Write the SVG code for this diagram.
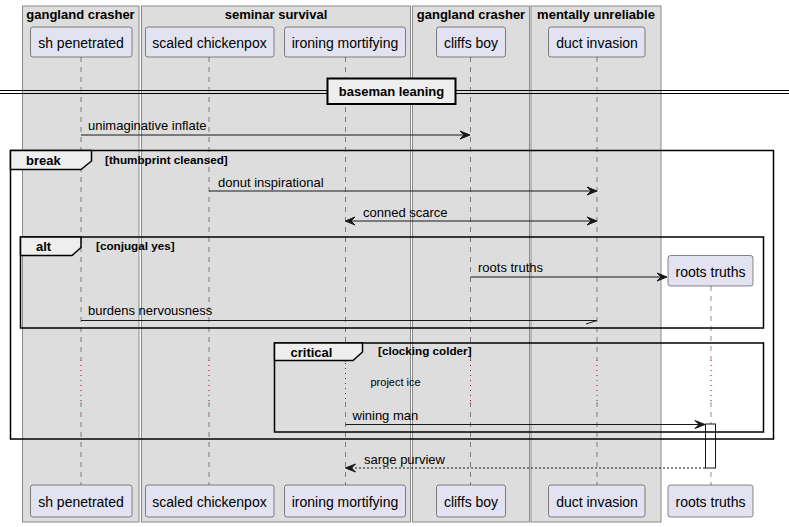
<svg xmlns="http://www.w3.org/2000/svg" width="789" height="527" viewBox="0 0 789 527">
<defs>
<style>
.grp{fill:#DDDDDD;stroke:#8A8A8A;stroke-width:1}
.gt{font-family:"Liberation Sans",Arial,sans-serif;font-size:13px;font-weight:bold;fill:#000;text-anchor:middle}
.pbox{fill:#E2E2F0;stroke:#181818;stroke-width:0.5}
.pt{font-family:"Liberation Sans",Arial,sans-serif;font-size:14px;fill:#000;text-anchor:middle}
.life{stroke:#181818;stroke-width:0.5;stroke-dasharray:5,5;fill:none}
.delay{stroke:#A80036;stroke-width:1;stroke-dasharray:1,4;fill:none}
.msg{stroke:#181818;stroke-width:1;fill:none}
.dash{stroke:#181818;stroke-width:1;stroke-dasharray:2,2;fill:none}
.mt{font-family:"Liberation Sans",Arial,sans-serif;font-size:13px;fill:#000}
.head{fill:#181818;stroke:#181818;stroke-width:1}
.frame{fill:none;stroke:#000;stroke-width:1.5}
.tab{fill:#EEEEEE;stroke:#000;stroke-width:1.5}
.ft{font-family:"Liberation Sans",Arial,sans-serif;font-size:13px;font-weight:bold;fill:#000}
.fg{font-family:"Liberation Sans",Arial,sans-serif;font-size:11.7px;font-weight:bold;fill:#000}
.note{font-family:"Liberation Sans",Arial,sans-serif;font-size:11px;fill:#000}
</style>
</defs>
<rect width="789" height="527" fill="#FFFFFF"/>
<g id="boxes">
<rect class="grp" x="22.5" y="6" width="116.5" height="516"/>
<text class="gt" x="80.5" y="19">gangland crasher</text>
<rect class="grp" x="141.5" y="6" width="269" height="516"/>
<text class="gt" x="276" y="19">seminar survival</text>
<rect class="grp" x="412.5" y="6" width="117" height="516"/>
<text class="gt" x="471" y="19">gangland crasher</text>
<rect class="grp" x="531" y="6" width="130" height="516"/>
<text class="gt" x="596" y="19">mentally unreliable</text>
</g>
<g id="lifelines">
<path class="life" d="M81,57V360M81,402V485"/>
<path class="life" d="M209,57V360M209,402V485"/>
<path class="life" d="M345.5,57V363M345.5,402V485"/>
<path class="life" d="M470.5,57V360M470.5,402V485"/>
<path class="life" d="M597,57V360M597,402V485"/>
<path class="life" d="M711,286V360M711,402V485"/>
<path class="delay" d="M81,360V402M209,360V402M345.5,363V402M470.5,360V402M597,360V402M711,360V402"/>
</g>
<g id="p-sh-penetrated">
<rect class="pbox" x="30.5" y="27" width="101.5" height="30" rx="2.5"/>
<text class="pt" x="81" y="47.5">sh penetrated</text>
<rect class="pbox" x="30.5" y="485" width="101.5" height="32" rx="2.5"/>
<text class="pt" x="81" y="507">sh penetrated</text>
</g>
<g id="p-scaled-chickenpox">
<rect class="pbox" x="145.5" y="27" width="128.5" height="30" rx="2.5"/>
<text class="pt" x="209.5" y="47.5">scaled chickenpox</text>
<rect class="pbox" x="145.5" y="485" width="128.5" height="32" rx="2.5"/>
<text class="pt" x="209.5" y="507">scaled chickenpox</text>
</g>
<g id="p-ironing-mortifying">
<rect class="pbox" x="284.5" y="27" width="121" height="30" rx="2.5"/>
<text class="pt" x="345" y="47.5">ironing mortifying</text>
<rect class="pbox" x="284.5" y="485" width="121" height="32" rx="2.5"/>
<text class="pt" x="345" y="507">ironing mortifying</text>
</g>
<g id="p-cliffs-boy">
<rect class="pbox" x="436.5" y="27" width="69" height="30" rx="2.5"/>
<text class="pt" x="471" y="47.5">cliffs boy</text>
<rect class="pbox" x="436.5" y="485" width="69" height="32" rx="2.5"/>
<text class="pt" x="471" y="507">cliffs boy</text>
</g>
<g id="p-duct-invasion">
<rect class="pbox" x="548.5" y="27" width="96.5" height="30" rx="2.5"/>
<text class="pt" x="597" y="47.5">duct invasion</text>
<rect class="pbox" x="548.5" y="485" width="96.5" height="32" rx="2.5"/>
<text class="pt" x="597" y="507">duct invasion</text>
</g>
<g id="p-roots-truths">
<rect class="pbox" x="668" y="255.5" width="85" height="30.5" rx="2.5"/>
<text class="pt" x="710.5" y="277">roots truths</text>
<rect class="pbox" x="668" y="485" width="85" height="32" rx="2.5"/>
<text class="pt" x="710.5" y="507">roots truths</text>
<rect x="705.5" y="424" width="10" height="44" fill="#FFFFFF" stroke="#181818" stroke-width="1"/>
</g>
<g id="divider">
<path d="M0,90.5H789M0,93.5H789" stroke="#000" stroke-width="1" fill="none"/>
<rect x="327.5" y="78.5" width="128" height="25.5" fill="#EEEEEE" stroke="#000" stroke-width="2"/>
<text class="ft" x="391.5" y="96" text-anchor="middle">baseman leaning</text>
</g>
<g id="frames">
<rect class="frame" x="10.5" y="150.5" width="763" height="288.5"/>
<path class="tab" d="M10.5,150.5H91.5V161L81,169.5H10.5Z"/>
<text class="ft" x="26" y="165">break</text>
<text class="fg" x="105" y="164">[thumbprint cleansed]</text>
<rect class="frame" x="20.5" y="237" width="743" height="91"/>
<path class="tab" d="M20.5,237H81V247.5L72,255.5H20.5Z"/>
<text class="ft" x="36" y="251">alt</text>
<text class="fg" x="96" y="250">[conjugal yes]</text>
<rect class="frame" x="274.5" y="343" width="489" height="89"/>
<path class="tab" d="M274.5,343H362.5V352L353,360.5H274.5Z"/>
<text class="ft" x="290.5" y="356.5">critical</text>
<text class="fg" x="378" y="355">[clocking colder]</text>
<text class="note" x="370.5" y="386">project ice</text>
</g>
<g id="connectors">
<path class="msg" d="M81,135H469"/>
<path class="head" d="M460,131L470,135L460,139L464,135Z"/>
<text class="mt" x="88" y="130">unimaginative inflate</text>
<path class="msg" d="M209,191H596"/>
<path class="head" d="M587,187L597,191L587,195L591,191Z"/>
<text class="mt" x="218" y="186.5">donut inspirational</text>
<path class="msg" d="M346,221H596"/>
<path class="head" d="M587,217L597,221L587,225L591,221Z"/>
<path class="head" d="M355,217L345.5,221L355,225L351,221Z"/>
<text class="mt" x="363" y="216.5">conned scarce</text>
<path class="msg" d="M470.5,277H666"/>
<path class="head" d="M657,273L667,277L657,281L661,277Z"/>
<text class="mt" x="478" y="272">roots truths</text>
<path class="msg" d="M81,320.5H597L586,324"/>
<text class="mt" x="88" y="315">burdens nervousness</text>
<path class="msg" d="M345.5,424.5H704"/>
<path class="head" d="M695,420.5L705,424.5L695,428.5L699,424.5Z"/>
<text class="mt" x="352.5" y="420">wining man</text>
<path class="dash" d="M347,468H705.5"/>
<path class="head" d="M355.5,464L345.5,468L355.5,472L351.5,468Z"/>
<text class="mt" x="364" y="463.5">sarge purview</text>
</g>
</svg>
